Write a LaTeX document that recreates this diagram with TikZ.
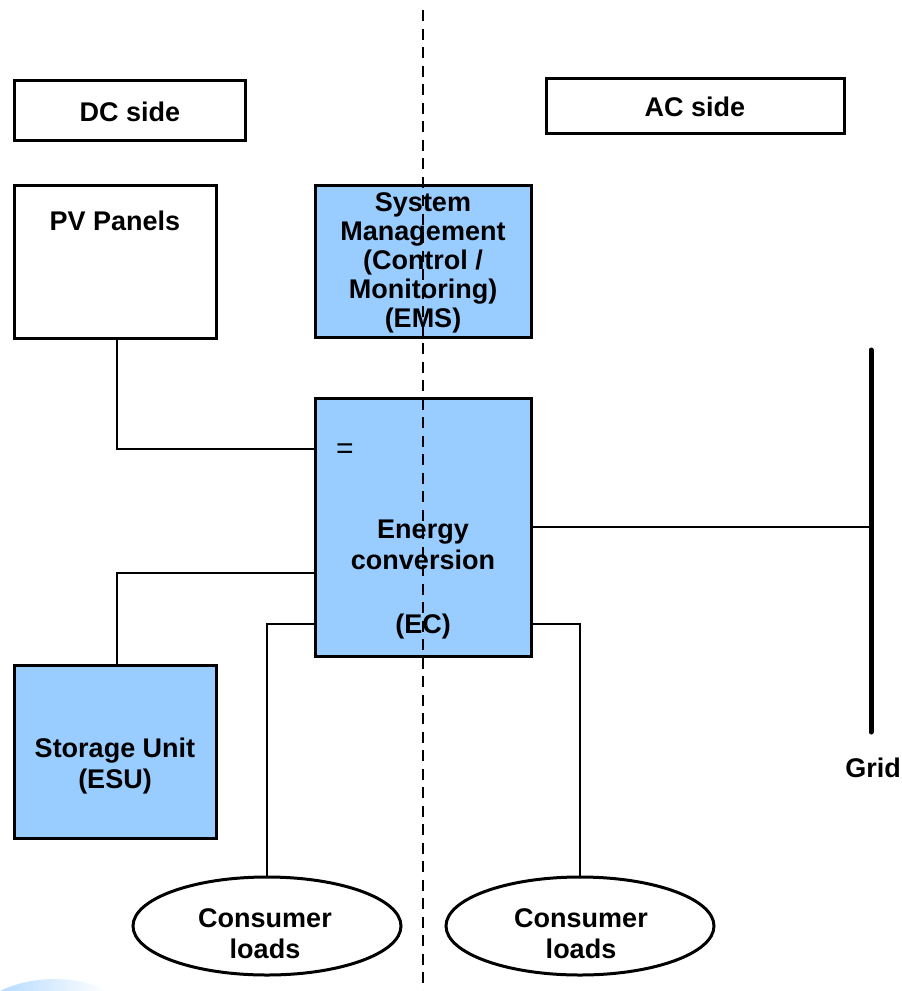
\documentclass[tikz,border=0pt]{standalone}
\usepackage{fontspec}
\setmainfont{Liberation Sans}
\usepackage{tikz}
\usetikzlibrary{shapes.geometric}

\definecolor{unitblue}{HTML}{99CCFF}
\tikzset{
  unit/.style = {draw, line width = 3pt, minimum width = 202pt, inner sep = 0pt},
  bluebox/.style = {unit, fill = unitblue},
  load/.style = {draw, ellipse, line width = 3pt, minimum width = 268pt, minimum height = 98pt, inner sep = 0pt},
  txt/.style = {font = \fontsize{27}{31}\selectfont\bfseries, align = center},
  wire/.style = {line width = 1.5pt}
}

\begin{document}
\begin{tikzpicture}[x = 1pt, y = -1pt]
\useasboundingbox (0, 0) rectangle (902, 991);

% template swoosh, bottom left
\shade [left color = unitblue!70, right color = white] (0, 991) .. controls (30, 976) and (75, 974) .. (108, 991) -- cycle;

% side headers
\node [unit, minimum width = 231pt, minimum height = 60pt] (dc) at (129.5, 110) {};
\node [txt] (dctext) at (130, 112) {DC side};
\node [unit, minimum width = 298pt, minimum height = 55pt] (ac) at (695, 105.5) {};
\node [txt] (actext) at (695, 107) {AC side};

% units
\node [unit, minimum height = 153pt] (pv) at (115, 261.5) {};
\node [txt] (pvtext) at (115, 221) {PV Panels};
\node [bluebox, minimum width = 216pt, minimum height = 152pt] (ems) at (423, 261) {};
\node [txt, font = \fontsize{27}{29}\selectfont\bfseries] (emstext) at (423, 263)
  {System\\Management\\(Control /\\Monitoring)\\(EMS)};
\node [bluebox, minimum width = 216pt, minimum height = 258pt] (ec) at (423, 527) {};
\node [font = \fontsize{30}{30}\selectfont] (eq) at (345, 451) {=};
\node [txt] (ectext) at (423, 545) {Energy\\conversion};
\node [txt] (ecabbr) at (423, 627) {(EC)};
\node [bluebox, minimum height = 173pt] (esu) at (115, 751.5) {};
\node [txt] (esutext) at (115, 766) {Storage Unit\\(ESU)};

% loads
\node [load] (loadl) at (267, 926) {};
\node [txt] (loadltext) at (265, 934) {Consumer\\loads};
\node [load] (loadr) at (580, 926) {};
\node [txt] (loadrtext) at (581, 934) {Consumer\\loads};

% grid bus
\coordinate (gtop) at (871, 350);
\coordinate (gbot) at (871, 732);
\draw [line width = 5pt, line cap = round] (gtop) -- (gbot);
\node [txt] (grid) at (873, 768) {Grid};

% connections
\draw [wire] ([xshift = 2pt]pv.south) |- ([yshift = 78pt]ec.west);
\draw [wire] ([xshift = 2pt]esu.north) |- ([yshift = -46pt]ec.west);
\draw [wire] (loadl.north) |- ([yshift = -97pt]ec.west);
\draw [wire] (loadr.north) |- ([yshift = -97pt]ec.east);
\draw [wire] (ec.east) -- (ec.east -| gtop);

% DC / AC border
\coordinate (btop) at (423, 10);
\coordinate (bbot) at (423, 991);
\draw [line width = 2.5pt, dash pattern = on 11pt off 7.5pt] (btop) -- (bbot);
\end{tikzpicture}
\end{document}
